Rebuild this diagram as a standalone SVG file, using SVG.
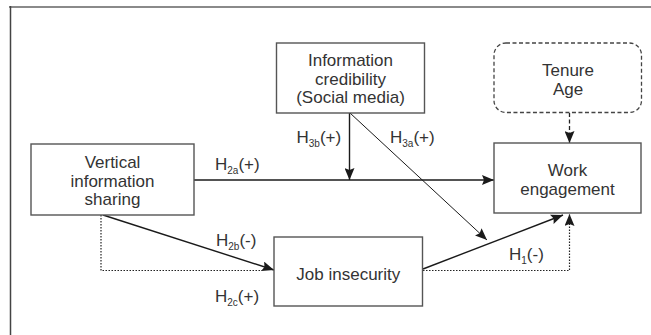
<svg xmlns="http://www.w3.org/2000/svg" width="651" height="335" viewBox="0 0 651 335">
<defs>
<marker id="ah" viewBox="0 0 12 10" refX="12" refY="5" markerWidth="12" markerHeight="10" markerUnits="userSpaceOnUse" orient="auto">
<path d="M0,0 L12,5 L0,10 L2,5 Z" fill="#1a1a1a"/>
</marker>
</defs>
<style>
.box{fill:#fff;stroke:#555;stroke-width:1.4}
.dbox{fill:#fff;stroke:#444;stroke-width:1.3;stroke-dasharray:4 2.5}
.t{font-family:"Liberation Sans",Arial,sans-serif;font-size:17px;fill:#333;text-anchor:middle}
.l{font-family:"Liberation Sans",Arial,sans-serif;font-size:17px;fill:#333}
.s{font-size:10px}
.c{fill:none;stroke:#1a1a1a;stroke-width:1.4}
.thin{fill:none;stroke:#1a1a1a;stroke-width:1}
.dot{fill:none;stroke:#222;stroke-width:1.2;stroke-dasharray:1.5 1.5}
.dash{fill:none;stroke:#222;stroke-width:1.3;stroke-dasharray:4 2.5}
</style>
<rect width="651" height="335" fill="#fff"/>
<g id="frame">
<line x1="9" y1="7" x2="651" y2="7" stroke="#8a8a8a" stroke-width="2"/>
<line x1="10.5" y1="6" x2="10.5" y2="335" stroke="#444" stroke-width="1.5"/>
</g>
<g id="connectors">
<line class="c" x1="194" y1="180" x2="494" y2="180" marker-end="url(#ah)"/>
<line class="c" x1="349.5" y1="113" x2="349.5" y2="180" marker-end="url(#ah)"/>
<line class="thin" x1="350" y1="113" x2="487" y2="240" marker-end="url(#ah)"/>
<line class="c" x1="103" y1="215" x2="274" y2="270" marker-end="url(#ah)"/>
<polyline class="dot" points="101,215 101,270.5 262,270.5"/>
<line class="c" x1="423" y1="269" x2="563" y2="215" marker-end="url(#ah)"/>
<polyline class="dot" points="423,270.5 569.5,270.5 569.5,214" marker-end="url(#ah)"/>
<path d="M569.5,113 L569.5,143" class="dash" marker-end="url(#ah)"/>
</g>
<g id="vertical">
<rect class="box" x="31" y="144" width="163" height="71"/>
<text class="t" x="112.5" y="168">Vertical</text>
<text class="t" x="112.5" y="186.7">information</text>
<text class="t" x="112.5" y="205.3">sharing</text>
</g>
<g id="credibility">
<rect class="box" x="276.5" y="43" width="148" height="70"/>
<text class="t" x="350.5" y="66">Information</text>
<text class="t" x="350.5" y="84.7">credibility</text>
<text class="t" x="350.5" y="103.3">(Social media)</text>
</g>
<g id="control">
<rect class="dbox" x="494" y="43" width="147.5" height="69.5" rx="12" ry="12"/>
<text class="t" x="568" y="76">Tenure</text>
<text class="t" x="568" y="95">Age</text>
</g>
<g id="engagement">
<rect class="box" x="494" y="143" width="147" height="70"/>
<text class="t" x="567.5" y="175.7">Work</text>
<text class="t" x="567.5" y="194.7">engagement</text>
</g>
<g id="insecurity">
<rect class="box" x="274" y="237" width="148.5" height="69"/>
<text class="t" x="348.3" y="279.5">Job insecurity</text>
</g>
<g id="labels">
<text class="l" x="215" y="170">H<tspan class="s" dy="3.5">2a</tspan><tspan dy="-3.5">(+)</tspan></text>
<text class="l" x="296.5" y="143">H<tspan class="s" dy="3.5">3b</tspan><tspan dy="-3.5">(+)</tspan></text>
<text class="l" x="390" y="143">H<tspan class="s" dy="3.5">3a</tspan><tspan dy="-3.5">(+)</tspan></text>
<text class="l" x="216" y="246">H<tspan class="s" dy="3.5">2b</tspan><tspan dy="-3.5">(-)</tspan></text>
<text class="l" x="215" y="302">H<tspan class="s" dy="3.5">2c</tspan><tspan dy="-3.5">(+)</tspan></text>
<text class="l" x="509" y="260">H<tspan class="s" dy="3.5">1</tspan><tspan dy="-3.5">(-)</tspan></text>
</g>
</svg>
